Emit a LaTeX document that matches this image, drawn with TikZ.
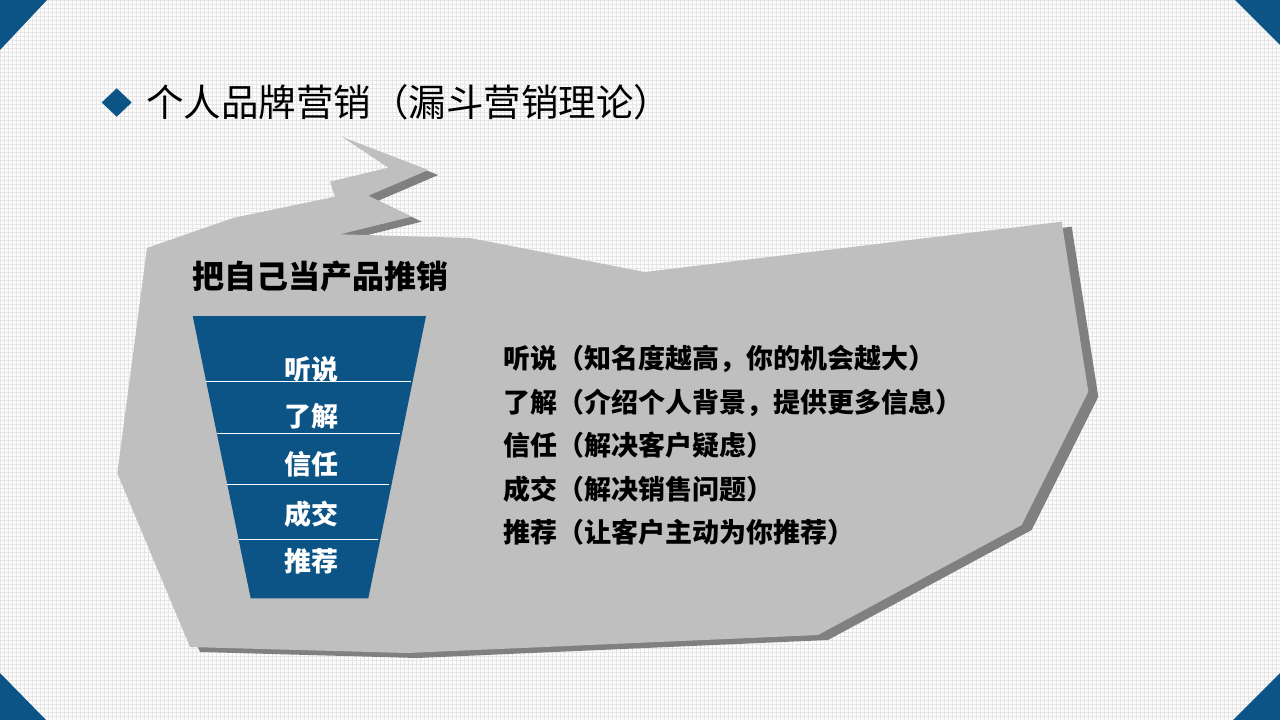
\documentclass[tikz,border=0pt]{standalone}
\usepackage{fontspec}
\newfontfamily\cjk{Noto Sans CJK SC}
\usetikzlibrary{calc}

\definecolor{funnelblue}{RGB}{12,84,133}
\definecolor{bubblegray}{RGB}{191,191,191}
\definecolor{bubbleshade}{RGB}{128,128,128}
\definecolor{paper}{RGB}{252,252,252}
\definecolor{paperline}{RGB}{230,230,230}

% outline of the grey speech shape
\newcommand\bubblepath{(341.7,136.7) -- (428.3,170) -- (368.3,195.7) -- (411.7,216.7) -- (340,234.3)
    -- (470,238) -- (645,272) -- (1061.7,221.7) -- (1088.3,391.7) -- (1021.7,525) -- (818,635)
    -- (407,653) -- (190,647) -- (117.3,473.3) -- (147,248) -- (233,218) -- (335,196.7)
    -- (330,181.7) -- (388.3,167.7) -- cycle}

\begin{document}
\begin{tikzpicture}
                    [x=1pt,y=-1pt,
                     stage/.style={font=\cjk\bfseries\fontsize{27}{30}\selectfont,text=white,inner sep=0,anchor=base},
                     item/.style={font=\cjk\bfseries\fontsize{27}{30}\selectfont,inner sep=0,anchor=base west}]

                \useasboundingbox (0,0) rectangle (1280,720);
                \fill[paper] (0,0) rectangle (1280,720);
                \draw[paperline,line width=0.3,step=4pt] (0pt,-720pt) grid (1280pt,0pt);

                % corners
                \fill[funnelblue] (0,0) -- (47,0) -- (0,50) -- cycle;
                \fill[funnelblue] (1280,0) -- (1235,0) -- (1280,45) -- cycle;
                \fill[funnelblue] (0,720) -- (46,720) -- (0,673) -- cycle;
                \fill[funnelblue] (1280,720) -- (1233,720) -- (1280,673) -- cycle;

                \fill[funnelblue] (116.7,88.3) -- (131.7,102.5) -- (116.7,116.7) -- (101.7,102.5) -- cycle;
                \node[font=\cjk\fontsize{37.5}{40}\selectfont,inner sep=0,anchor=base west] (title) at (146,116) {个人品牌营销（漏斗营销理论）};

                \fill[bubbleshade,shift={(10,5)}] \bubblepath;
                \fill[bubblegray] \bubblepath;

                \node[font=\cjk\bfseries\fontsize{32}{36}\selectfont,inner sep=0,anchor=base west] (sell) at (192,288) {把自己当产品推销};

                % funnel
                \coordinate (ftl) at (192.7,316);
                \coordinate (ftr) at (426,316);
                \coordinate (fbr) at (368.3,598.3);
                \coordinate (fbl) at (250.7,598.3);
                \fill[funnelblue] (ftl) -- (ftr) -- (fbr) -- (fbl) -- cycle;
                \foreach \t in {0.23,0.415,0.598,0.79}
                    \draw[white,line width=0.8] ($(ftl)!\t!(fbl)$) -- ($(ftr)!\t!(fbr)+(-2,0)$);

                \node[stage] (hear)  at (311.5,379.3) {听说};
                \node[stage] (know)  at (311.5,426.3) {了解};
                \node[stage] (trust) at (311.5,474.3) {信任};
                \node[stage] (deal)  at (311.5,524.3) {成交};
                \node[stage] (refer) at (311.5,571.3) {推荐};

                \node[item] (hearnote)  at (503,368.3) {听说（知名度越高，你的机会越大）};
                \node[item] (knownote)  at (503,412.3) {了解（介绍个人背景，提供更多信息）};
                \node[item] (trustnote) at (503,455.3) {信任（解决客户疑虑）};
                \node[item] (dealnote)  at (503,499.3) {成交（解决销售问题）};
                \node[item] (refernote) at (503,542.3) {推荐（让客户主动为你推荐）};

                \end{tikzpicture}
\end{document}
